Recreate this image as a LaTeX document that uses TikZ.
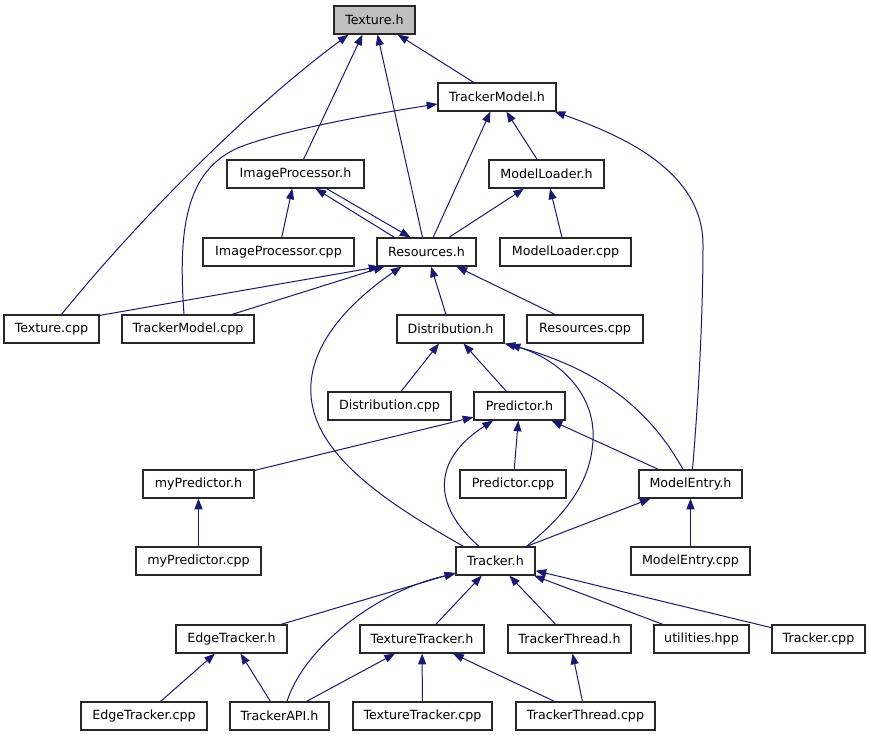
\documentclass[tikz,border=0pt]{standalone}
\usepackage{fontspec}
\setmainfont{DejaVu Sans}
\usetikzlibrary{arrows.meta,calc}
\definecolor{edgeblue}{RGB}{25,25,112}
\definecolor{rootgray}{RGB}{191,191,191}
\definecolor{boxline}{RGB}{40,40,40}
\begin{document}
\begin{tikzpicture}[x=0.75pt,y=-0.75pt,
  box/.style={draw=boxline,line width=0.9pt,fill=white,minimum height=21pt,inner sep=0pt,
    font=\fontsize{9.5}{11}\selectfont},
  bw/.style={minimum width=#1*0.75pt},
  dep/.style={draw=edgeblue,line width=0.75pt,-{Triangle[length=8pt,width=6pt]}}]
\fill[white] (0,0) rectangle (871,736);
\useasboundingbox (0,0) rectangle (871,736);

\node[box,bw=81,fill=rootgray] (texh) at (374.5,20) {Texture.h};
\node[box,bw=118] (tmh) at (497,97) {TrackerModel.h};
\node[box,bw=137] (iph) at (295.5,174) {ImageProcessor.h};
\node[box,bw=115] (mlh) at (546.5,174) {ModelLoader.h};
\node[box,bw=151] (ipcpp) at (278.5,252) {ImageProcessor.cpp};
\node[box,bw=99] (resh) at (426.5,252) {Resources.h};
\node[box,bw=131] (mlcpp) at (565.5,252) {ModelLoader.cpp};
\node[box,bw=95] (texcpp) at (51.5,329) {Texture.cpp};
\node[box,bw=132] (tmcpp) at (188,329) {TrackerModel.cpp};
\node[box,bw=107] (disth) at (450.5,329) {Distribution.h};
\node[box,bw=116] (rescpp) at (585,329) {Resources.cpp};
\node[box,bw=123] (distcpp) at (389.5,406) {Distribution.cpp};
\node[box,bw=91] (predh) at (519.5,406) {Predictor.h};
\node[box,bw=111] (mypredh) at (198.5,484) {myPredictor.h};
\node[box,bw=106] (predcpp) at (513,484) {Predictor.cpp};
\node[box,bw=103] (meh) at (690.5,484) {ModelEntry.h};
\node[box,bw=125] (mypredcpp) at (198.5,561) {myPredictor.cpp};
\node[box,bw=79] (trackh) at (495.5,561) {Tracker.h};
\node[box,bw=119] (mecpp) at (690.5,561) {ModelEntry.cpp};
\node[box,bw=111] (edgeh) at (231.5,639) {EdgeTracker.h};
\node[box,bw=124] (texth) at (422,639) {TextureTracker.h};
\node[box,bw=123] (tthh) at (569.5,639) {TrackerThread.h};
\node[box,bw=95] (utilhpp) at (701.5,639) {utilities.hpp};
\node[box,bw=93] (trackcpp) at (818.5,639) {Tracker.cpp};
\node[box,bw=126] (edgecpp) at (144,716) {EdgeTracker.cpp};
\node[box,bw=99] (apih) at (279.5,716) {TrackerAPI.h};
\node[box,bw=139] (textcpp) at (422.5,716) {TextureTracker.cpp};
\node[box,bw=139] (tthcpp) at (585.5,716) {TrackerThread.cpp};

% edges to Texture.h
\draw[dep] (tmh) -- (texh);
\draw[dep] ($(iph.north)+(8,0)$) -- ($(texh.south)+(-12,0)$);
\draw[dep] ($(resh.north)+(-4,0)$) -- ($(texh.south)+(3,0)$);
\draw[dep] ($(texcpp.north)+(10,0)$) .. controls (130,230) and (240,115) .. ($(texh.south west)+(15,0)$);
% edges to TrackerModel.h
\draw[dep] ($(tmcpp.north)+(-4,0)$) .. controls (178,230) and (185,170) .. (240,147)
  .. controls (290,128) and (380,113) .. ($(tmh.west)+(0,7)$);
\draw[dep] (resh) -- (tmh);
\draw[dep] (mlh) -- (tmh);
\draw[dep] ($(meh.north)+(2,0)$) .. controls (700,380) and (703,300) .. (703,245)
  .. controls (703,170) and (620,135) .. ($(tmh.south east)+(-2,0)$);
% edges to ImageProcessor.h
\draw[dep] (ipcpp) -- (iph);
\draw[dep] ($(resh.north)+(-32,0)$) -- ($(iph.south)+(20,0)$);
% edges to Resources.h
\draw[dep] ($(iph.south)+(31,0)$) -- ($(resh.north)+(-16,0)$);
\draw[dep] ($(texcpp.north east)+(0,1)$) -- ($(resh.south west)+(3,0)$);
\draw[dep] ($(tmcpp.north)+(44,0)$) -- ($(resh.south west)+(8,0)$);
\draw[dep] (disth) -- (resh);
\draw[dep] (rescpp) -- (resh);
\draw[dep] ($(trackh.north)+(-32,0)$) .. controls (400,510) and (315,460) .. (311,395)
  .. controls (307,340) and (360,295) .. ($(resh.south)+(-25,0)$);
% edges to ModelLoader.h
\draw[dep] (resh) -- (mlh);
\draw[dep] (mlcpp) -- (mlh);
% edges to Distribution.h
\draw[dep] (distcpp) -- (disth);
\draw[dep] (predh) -- (disth);
\draw[dep] ($(trackh.north)+(31,0)$) .. controls (565,515) and (595,480) .. (593,430)
  .. controls (590,385) and (550,355) .. ($(disth.south east)+(0,0)$);
\draw[dep] ($(meh.north)+(-7.5,0)$) .. controls (650,410) and (600,370) .. ($(disth.south east)+(5,1)$);
% edges to Predictor.h
\draw[dep] (mypredh) -- (predh);
\draw[dep] (predcpp) -- (predh);
\draw[dep] ($(trackh.north)+(-16.5,0)$) .. controls (432,505) and (432,460) .. ($(predh.south)+(-26.5,0)$);
\draw[dep] (meh) -- (predh);
% others
\draw[dep] (mypredcpp) -- (mypredh);
\draw[dep] ($(trackh.north)+(31,0)$) -- ($(meh.south)+(-40,0)$);
\draw[dep] (mecpp) -- (meh);
% edges to Tracker.h
\draw[dep] (edgeh) -- (trackh);
\draw[dep] ($(apih.north)+(7.5,0)$) .. controls (305,645) and (380,590) .. ($(trackh.south west)+(0,-2)$);
\draw[dep] (texth) -- (trackh);
\draw[dep] (tthh) -- (trackh);
\draw[dep] (utilhpp) -- (trackh);
\draw[dep] (trackcpp) -- (trackh);
% bottom row
\draw[dep] (edgecpp) -- (edgeh);
\draw[dep] (apih) -- (edgeh);
\draw[dep] (apih) -- (texth);
\draw[dep] (textcpp) -- (texth);
\draw[dep] (tthcpp) -- (texth);
\draw[dep] (tthcpp) -- (tthh);
\end{tikzpicture}
\end{document}
